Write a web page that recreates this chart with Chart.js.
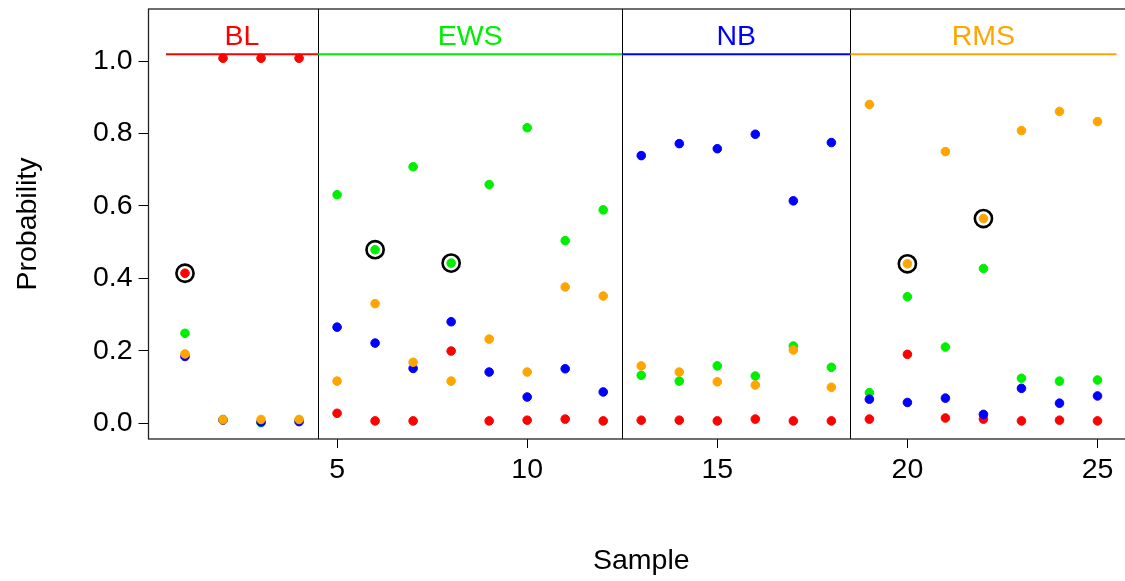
<!DOCTYPE html>
<html>
<head>
<meta charset="utf-8">
<script src="https://cdn.jsdelivr.net/npm/chart.js@4"></script>
<style>
  html, body { margin: 0; padding: 0; background: #fff; overflow: hidden; }
  #wrap { width: 1140px; height: 581px; }
</style>
</head>
<body>
<div id="wrap"><canvas id="grafico" width="1140" height="581"></canvas></div>
<script>
// dados
const amostras = [1, 2, 3, 4, 5, 6, 7, 8, 9, 10, 11, 12, 13, 14, 15, 16, 17, 18, 19, 20, 21, 22, 23, 24, 25];
const probBL  = [0.414, 1.008, 1.008, 1.008, 0.027, 0.006, 0.006, 0.199, 0.006, 0.008, 0.011, 0.006, 0.008, 0.008, 0.006, 0.011, 0.006, 0.006, 0.011, 0.190, 0.014, 0.011, 0.006, 0.008, 0.006];
const probEWS = [0.248, 0.010, 0.001, 0.008, 0.631, 0.479, 0.708, 0.442, 0.659, 0.816, 0.504, 0.589, 0.132, 0.116, 0.158, 0.130, 0.213, 0.154, 0.084, 0.349, 0.210, 0.427, 0.124, 0.116, 0.119];
const probNB  = [0.184, 0.008, 0.003, 0.004, 0.265, 0.221, 0.151, 0.280, 0.141, 0.072, 0.150, 0.086, 0.739, 0.772, 0.758, 0.798, 0.614, 0.775, 0.066, 0.057, 0.069, 0.024, 0.096, 0.055, 0.075];
const probRMS = [0.191, 0.009, 0.010, 0.010, 0.116, 0.330, 0.168, 0.116, 0.232, 0.141, 0.376, 0.351, 0.158, 0.141, 0.114, 0.105, 0.202, 0.099, 0.880, 0.440, 0.750, 0.565, 0.808, 0.861, 0.833];

// amostras assinaladas com círculo
const destaqueX = [1, 6, 8, 20, 22];
const destaqueY = [0.414, 0.479, 0.442, 0.440, 0.565];

// grupos do cabeçalho
const grupos = ['BL', 'EWS', 'NB', 'RMS'];
const gruposInicio = [0.5, 4.5, 12.5, 18.5];
const gruposFim = [4.5, 12.5, 18.5, 25.5];
const gruposCor = ['#ff0000', '#00ee00', '#0000ff', '#ffa500'];
const separadores = [4.5, 12.5, 18.5];

const ticksX = [5, 10, 15, 20, 25];
const ticksY = [0, 0.2, 0.4, 0.6, 0.8, 1.0];

const fonte = '"Liberation Sans", Arial, Helvetica, sans-serif';
const tamanho = 28.5;

function pontos(valores) {
    return amostras.map((x, i) => ({ x: x, y: valores[i] }));
}

function serie(valores, cor) {
    return {
        data: pontos(valores),
        backgroundColor: cor,
        borderColor: cor,
        borderWidth: 1,
        pointRadius: 4.3,
        showLine: false
    };
}

// cabeçalho, separadores e moldura
const moldura = {
    id: 'moldura',
    beforeDatasetsDraw(chart) {
        const ctx = chart.ctx;
        const area = chart.chartArea;
        const sx = chart.scales.x;
        const sy = chart.scales.y;
        ctx.save();
        ctx.strokeStyle = '#000';
        ctx.lineWidth = 1;
        separadores.forEach(s => {
            const px = Math.round(sx.getPixelForValue(s)) + 0.5;
            ctx.beginPath();
            ctx.moveTo(px, area.top);
            ctx.lineTo(px, area.bottom);
            ctx.stroke();
        });
        const yLinha = sy.getPixelForValue(1.019);
        const yTexto = sy.getPixelForValue(1.067);
        ctx.font = tamanho + 'px ' + fonte;
        ctx.textAlign = 'center';
        ctx.textBaseline = 'middle';
        grupos.forEach((g, i) => {
            const x0 = sx.getPixelForValue(gruposInicio[i]);
            const x1 = sx.getPixelForValue(gruposFim[i]);
            ctx.strokeStyle = gruposCor[i];
            ctx.lineWidth = 2;
            ctx.beginPath();
            ctx.moveTo(x0, yLinha);
            ctx.lineTo(x1, yLinha);
            ctx.stroke();
            ctx.fillStyle = gruposCor[i];
            ctx.fillText(g, (x0 + x1) / 2, yTexto);
        });
        ctx.restore();
    },
    afterDraw(chart) {
        const ctx = chart.ctx;
        const a = chart.chartArea;
        ctx.save();
        ctx.strokeStyle = '#222';
        ctx.lineWidth = 1.3;
        ctx.strokeRect(a.left, a.top, a.right - a.left, a.bottom - a.top);
        ctx.restore();
    }
};

new Chart(document.getElementById('grafico'), {
    type: 'scatter',
    data: {
        datasets: [
            {
                data: destaqueX.map((x, i) => ({ x: x, y: destaqueY[i] })),
                backgroundColor: 'rgba(0,0,0,0)',
                borderColor: '#000',
                borderWidth: 2.6,
                pointRadius: 8.6,
                showLine: false
            },
            serie(probRMS, '#ffa500'),
            serie(probNB, '#0000ff'),
            serie(probEWS, '#00ee00'),
            serie(probBL, '#ff0000')
        ]
    },
    options: {
        responsive: false,
        devicePixelRatio: 1,
        animation: false,
        layout: { autoPadding: false, padding: { top: 9, right: 6, left: 0, bottom: 0 } },
        plugins: {
            legend: { display: false },
            tooltip: { enabled: false }
        },
        scales: {
            x: {
                type: 'linear',
                min: 0.04,
                max: 25.96,
                afterFit: (scale) => {
                    scale.height = 142;
                    scale.paddingLeft = 0;
                    scale.paddingRight = 0;
                },
                afterBuildTicks: (scale) => { scale.ticks = ticksX.map(v => ({ value: v })); },
                grid: { display: true, drawOnChartArea: false, drawTicks: true, tickLength: 9, color: '#000', lineWidth: 1 },
                border: { display: false },
                ticks: {
                    autoSkip: false,
                    maxRotation: 0,
                    padding: 5,
                    color: '#000',
                    font: { family: fonte, size: tamanho },
                    callback: (v) => String(v)
                },
                title: {
                    display: true,
                    text: 'Sample',
                    color: '#000',
                    font: { family: fonte, size: tamanho },
                    padding: { top: 0, bottom: 3 }
                }
            },
            y: {
                type: 'linear',
                min: -0.044,
                max: 1.144,
                afterFit: (scale) => {
                    scale.width = 148.5;
                    scale.paddingTop = 0;
                    scale.paddingBottom = 0;
                },
                afterBuildTicks: (scale) => { scale.ticks = ticksY.map(v => ({ value: v })); },
                grid: { display: true, drawOnChartArea: false, drawTicks: true, tickLength: 10, color: '#000', lineWidth: 1 },
                border: { display: false },
                ticks: {
                    padding: 6,
                    color: '#000',
                    font: { family: fonte, size: tamanho },
                    callback: (v) => v.toFixed(1)
                },
                title: {
                    display: true,
                    text: 'Probability',
                    color: '#000',
                    font: { family: fonte, size: tamanho },
                    padding: { top: 11, bottom: 0 }
                }
            }
        }
    },
    plugins: [moldura]
});
</script>
</body>
</html>
